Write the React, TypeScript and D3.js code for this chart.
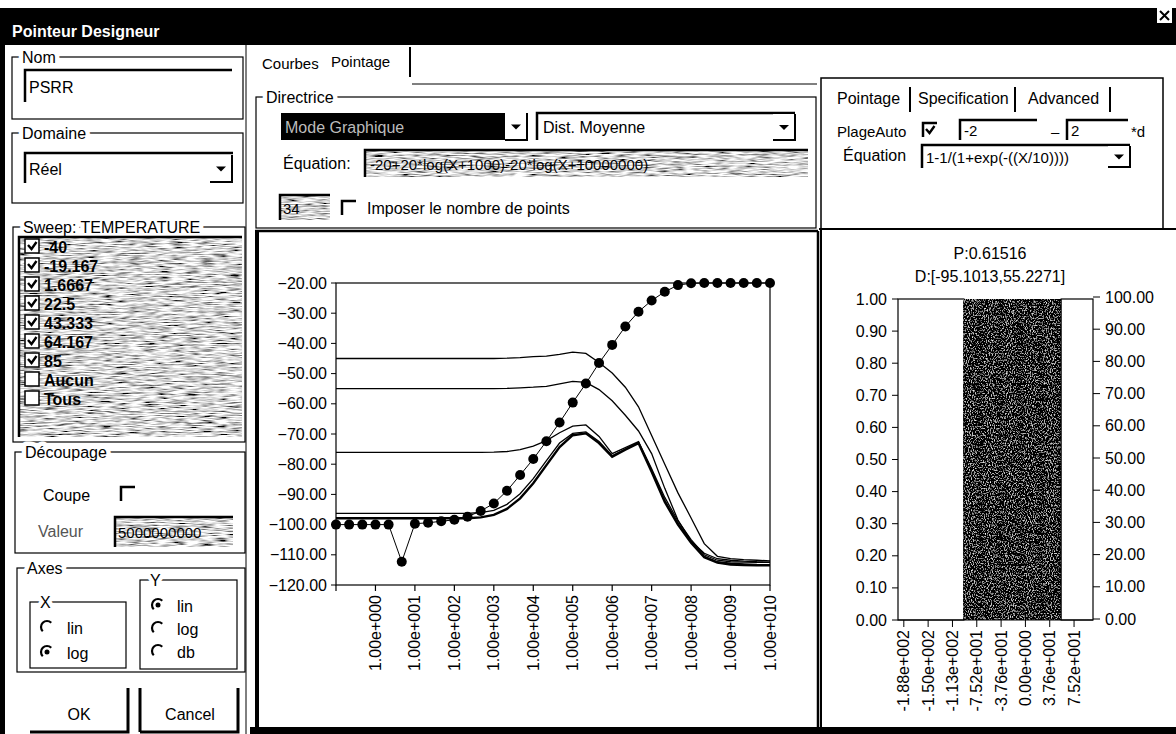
import * as d3 from "d3";

const FONT = "'Liberation Sans', Arial, Helvetica, sans-serif";

// sweep points (Hz) of the pointage, 3 per decade
const freqs = [
  1e-1, 2.154e-1, 4.642e-1, 1e0, 2.154e0, 4.642e0, 1e1, 2.154e1, 4.642e1, 1e2, 2.154e2, 4.642e2,
  1e3, 2.154e3, 4.642e3, 1e4, 2.154e4, 4.642e4, 1e5, 2.154e5, 4.642e5, 1e6, 2.154e6, 4.642e6,
  1e7, 2.154e7, 4.642e7, 1e8, 2.154e8, 4.642e8, 1e9, 2.154e9, 4.642e9, 1e10,
];

// pointage (dots)
const pointage = [
  -100, -100, -100, -100, -100, -112.3, -99.7, -99.4, -98.9, -98.4, -97.4, -95.5,
  -93, -88.8, -83.6, -78.3, -72.4, -66.2, -59.6, -53.3, -46.5, -40.5, -34.4, -29.5,
  -25.8, -22.9, -20.7, -20.1, -20, -20, -20, -20, -20, -20,
];

// PSRR curves of the temperature sweep
const curveA = [
  -45, -45, -45, -45, -45, -45, -45, -45, -45, -45, -45, -45,
  -45, -44.9, -44.7, -44.4, -44.2, -43.6, -42.9, -43.3, -46.3, -49.8, -54.5, -61,
  -70.5, -80, -89.5, -97.8, -106.3, -110.5, -111.3, -111.6, -111.8, -112,
];
const curveB = [
  -55, -55, -55, -55, -55, -55, -55, -55, -55, -55, -55, -55,
  -55, -54.9, -54.7, -54.5, -54.2, -53.4, -52.6, -52.9, -55.3, -59, -63.8, -69,
  -76.5, -88, -98.5, -105.5, -109.5, -111.3, -111.8, -112.1, -112.3, -112.4,
];
const curveC = [
  -76.1, -76.1, -76.1, -76.1, -76.1, -76.1, -76.1, -76.1, -76.1, -76.1, -76.1, -76.1,
  -76, -75.8, -75.2, -74, -72.2, -69.6, -67.4, -67, -70.8, -76.5, -74.5, -72.5,
  -81.5, -91, -98.8, -105, -110, -111.8, -112.3, -112.4, -112.5, -112.5,
];
const curveD = [
  -96.3, -96.3, -96.3, -96.3, -96.3, -96.3, -96.3, -96.3, -96.3, -96.3, -96.3, -96,
  -95.3, -93.3, -89.8, -84.8, -78.8, -73, -69.8, -69.3, -72.5, -77.2, -75, -72.8,
  -82, -92, -99.5, -105.5, -110.5, -112.3, -112.8, -113, -113.2, -113.3,
];
const curveE = [
  -97.9, -97.9, -97.9, -97.9, -97.9, -97.9, -97.9, -97.9, -97.9, -97.9, -97.9, -97.6,
  -96.8, -94.8, -91.3, -86.3, -80.3, -74.3, -70.4, -69.8, -73, -77.5, -75.2, -73,
  -82.5, -92.5, -100, -106, -110.8, -112.6, -113.2, -113.4, -113.5, -113.5,
];
const curves = [curveA, curveB, curveC, curveD, curveE];
const curveWidths = [1.3, 1.3, 1.3, 1.3, 2.4];

const temperatures = ["-40", "-19.167", "1.6667", "22.5", "43.333", "64.167", "85"];
const xLabelValues = [1e0, 1e1, 1e2, 1e3, 1e4, 1e5, 1e6, 1e7, 1e8, 1e9, 1e10];

// right panel: distribution of the spec
const binEdges = [-197, -95.1013, 55.2271, 104.5];
const binHeights = [1, 1, 1];
const binDark = [false, true, false];
const distTicks = [-188, -150.4, -112.8, -75.2, -37.6, 0, 37.6, 75.2];

function sci(v: number) {
  if (v === 0) return "0.00e+000";
  const e = Math.floor(Math.log10(Math.abs(v)) + 1e-9);
  const m = v / Math.pow(10, e);
  const es = (e < 0 ? "-" : "+") + String(Math.abs(e)).padStart(3, "0");
  return m.toFixed(2) + "e" + es;
}

const T = (p: any) => (
  <text fontFamily={FONT} fontSize={16} dominantBaseline="central" {...p} />
);

function Group({ x, y, w, h, label }: any) {
  return (
    <g>
      <rect x={x} y={y} width={w} height={h} fill="none" stroke="#000" strokeWidth={1.2} />
      <T x={x + 10} y={y} stroke="#fff" strokeWidth={9} strokeLinejoin="round" paintOrder="stroke">
        {label}
      </T>
    </g>
  );
}

function Sunken({ x, y, w, h, fill = "#fff", filter }: any) {
  return (
    <g>
      <rect x={x} y={y} width={w} height={h} fill={fill} filter={filter} />
      <path d={`M${x},${y + h} V${y} H${x + w}`} fill="none" stroke="#000" strokeWidth={2.5} />
    </g>
  );
}

function ArrowBtn({ x, y, w, h }: any) {
  const cx = x + w / 2;
  const cy = y + h / 2;
  return (
    <g>
      <rect x={x} y={y} width={w} height={h} fill="#fff" />
      <path d={`M${x + w},${y} V${y + h} H${x}`} fill="none" stroke="#000" strokeWidth={2} />
      <path d={`M${cx - 5},${cy - 2} h10 l-5,5 z`} fill="#000" />
    </g>
  );
}

function Check({ x, y, checked, boxed }: any) {
  return (
    <g>
      {boxed ? (
        <rect x={x} y={y} width={14} height={14} fill="#fff" stroke="#000" strokeWidth={1.5} />
      ) : (
        <path d={`M${x},${y + 14} V${y} H${x + 14}`} fill="none" stroke="#000" strokeWidth={2.5} />
      )}
      {checked && (
        <path d={`M${x + 3},${y + 6} l3.5,4 l5,-7`} fill="none" stroke="#000" strokeWidth={2.4} />
      )}
    </g>
  );
}

function Radio({ cx, cy, on }: any) {
  const r = 6;
  const a1 = (Math.PI * 3) / 4;
  const a0 = -Math.PI / 4;
  return (
    <g>
      <path
        d={`M${cx + r * Math.cos(a0)},${cy + r * Math.sin(a0)} A${r},${r} 0 0 0 ${cx + r * Math.cos(a1)},${cy + r * Math.sin(a1)}`}
        fill="none"
        stroke="#000"
        strokeWidth={2.2}
      />
      {on && <circle cx={cx} cy={cy} r={2.5} fill="#000" />}
    </g>
  );
}

export default function App() {
  // main PSRR chart
  const x = d3.scaleLog().domain([freqs[0], freqs[freqs.length - 1]]).range([336, 770]);
  const y = d3.scaleLinear().domain([-120, -20]).range([585, 283]);
  const line = d3
    .line<number>()
    .x((_, i) => x(freqs[i]))
    .y((d) => y(d));
  const minor = x.ticks();

  // right distribution chart
  const xr = d3.scaleLinear().domain([binEdges[0], binEdges[binEdges.length - 1]]).range([898, 1093]);
  const yr = d3.scaleLinear().domain([0, 1]).range([620, 299]);
  const yr2 = d3.scaleLinear().domain([0, 100]).range([619, 297]);

  const rowY = (i: number) => 246 + i * 19;

  return (
    <div style={{ position: "fixed", left: 0, top: 0 }}>
      <svg width={1176} height={734} style={{ display: "block", background: "#fff" }}>
        <defs>
          <filter id="grain" x="0" y="0" width="100%" height="100%">
            <feTurbulence type="fractalNoise" baseFrequency="0.07 0.9" numOctaves={2} seed={3} result="n" />
            <feColorMatrix
              in="n"
              type="matrix"
              values="2.4 0 0 0 -0.52  2.4 0 0 0 -0.52  2.4 0 0 0 -0.52  0 0 0 0 1"
              result="g"
            />
            <feComposite in="g" in2="SourceGraphic" operator="in" />
          </filter>
          <filter id="grainDark" x="0" y="0" width="100%" height="100%">
            <feTurbulence type="fractalNoise" baseFrequency="0.95 0.6" numOctaves={2} seed={7} result="n" />
            <feColorMatrix
              in="n"
              type="matrix"
              values="2.6 0 0 0 -1.35  2.6 0 0 0 -1.35  2.6 0 0 0 -1.35  0 0 0 0 1"
              result="g"
            />
            <feComposite in="g" in2="SourceGraphic" operator="in" />
          </filter>
        </defs>

        {/* title bar */}
        <rect x={0} y={8} width={1176} height={37} fill="#000" />
        <T x={12} y={31} fill="#fff" fontWeight="bold">Pointeur Designeur</T>
        <rect x={1157} y={8} width={15} height={15} fill="#fff" />
        <path d="M1160,11 l9,9 M1169,11 l-9,9" stroke="#000" strokeWidth={2} />

        {/* left panel */}
        <rect x={0} y={45} width={5} height={689} fill="#000" />
        <line x1={246} y1={45} x2={246} y2={734} stroke="#000" />

        <Group x={12} y={57} w={231} h={62} label="Nom" />
        <Sunken x={25} y={70} w={207} h={32} />
        <T x={29} y={87}>PSRR</T>

        <Group x={12} y={133} w={231} h={70} label="Domaine" />
        <Sunken x={25} y={153} w={208} h={30} />
        <ArrowBtn x={210} y={155} w={22} h={27} />
        <T x={29} y={169}>Réel</T>

        <Group x={13} y={227} w={232} h={215} label="Sweep: TEMPERATURE" />
        <Sunken x={19} y={237} w={223} h={200} fill="#999" filter="url(#grain)" />
        {temperatures.map((t, i) => (
          <g key={t}>
            <Check x={25} y={rowY(i) - 7} checked boxed />
            <T x={44} y={rowY(i) + 1} fontWeight="bold">{t}</T>
          </g>
        ))}
        {["Aucun", "Tous"].map((t, i) => (
          <g key={t}>
            <Check x={25} y={rowY(i + 7) - 7} checked={false} boxed />
            <T x={44} y={rowY(i + 7) + 1} fontWeight="bold">{t}</T>
          </g>
        ))}

        <Group x={15} y={452} w={230} h={101} label="Découpage" />
        <T x={43} y={495}>Coupe</T>
        <Check x={121} y={487} checked={false} />
        <T x={38} y={531} fill="#555">Valeur</T>
        <Sunken x={115} y={517} w={118} h={30} fill="#999" filter="url(#grain)" />
        <T x={118} y={532} fontSize={15}>5000000000</T>

        <Group x={17} y={568} w={228} h={104} label="Axes" />
        <Group x={30} y={602} w={96} h={66} label="X" />
        <Radio cx={47} cy={627} on={false} />
        <T x={67} y={628}>lin</T>
        <Radio cx={47} cy={652} on />
        <T x={67} y={653}>log</T>
        <Group x={140} y={580} w={97} h={89} label="Y" />
        <Radio cx={158} cy={605} on />
        <T x={177} y={606}>lin</T>
        <Radio cx={158} cy={628} on={false} />
        <T x={177} y={629}>log</T>
        <Radio cx={158} cy={651} on={false} />
        <T x={177} y={652}>db</T>

        <path d="M30,732 H128 V688" fill="none" stroke="#000" strokeWidth={3} />
        <T x={79} y={714} textAnchor="middle">OK</T>
        <path d="M140,732 V688 M140,732 H238 V688" fill="none" stroke="#000" strokeWidth={3} />
        <T x={190} y={714} textAnchor="middle">Cancel</T>

        {/* middle top: tabs and Directrice */}
        <T x={262} y={63} fontSize={15}>Courbes</T>
        <T x={331} y={61} fontSize={15}>Pointage</T>
        <line x1={410} y1={47} x2={410} y2={77} stroke="#000" strokeWidth={2} />
        <line x1={412} y1={84} x2={817} y2={84} stroke="#000" />

        <Group x={256} y={97} w={560} h={131} label="Directrice" />
        <rect x={281} y={113} width={224} height={27} fill="#000" />
        <T x={285} y={127} fill="#bbb">Mode Graphique</T>
        <ArrowBtn x={505} y={113} w={22} h={27} />
        <Sunken x={537} y={113} w={258} h={27} />
        <T x={543} y={127}>Dist. Moyenne</T>
        <ArrowBtn x={773} y={114} w={22} h={26} />
        <T x={283} y={163}>Équation:</T>
        <Sunken x={365} y={150} w={443} h={27} fill="#999" filter="url(#grain)" />
        <T x={370} y={164} fontSize={15}>-20+20*log(X+1000)-20*log(X+10000000)</T>
        <Sunken x={280} y={195} w={50} h={25} fill="#999" filter="url(#grain)" />
        <T x={283} y={208} fontSize={15}>34</T>
        <Check x={342} y={201} checked={false} />
        <T x={367} y={208}>Imposer le nombre de points</T>

        {/* right top panel */}
        <path d="M821,230 V78 H1163 V230" fill="none" stroke="#000" strokeWidth={1.5} />
        <T x={837} y={98}>Pointage</T>
        <line x1={910} y1={87} x2={910} y2={112} stroke="#000" strokeWidth={2} />
        <T x={918} y={98}>Specification</T>
        <line x1={1015} y1={87} x2={1015} y2={112} stroke="#000" strokeWidth={2} />
        <T x={1028} y={98}>Advanced</T>
        <line x1={1110} y1={87} x2={1110} y2={112} stroke="#000" strokeWidth={2} />
        <T x={837} y={131} fontSize={15}>PlageAuto</T>
        <Check x={923} y={123} checked />
        <Sunken x={960} y={120} w={77} h={20} />
        <T x={964} y={130} fontSize={15}>-2</T>
        <T x={1051} y={131} fontSize={15}>–</T>
        <Sunken x={1067} y={120} w={61} h={20} />
        <T x={1071} y={130} fontSize={15}>2</T>
        <T x={1131} y={131} fontSize={15}>*d</T>
        <T x={843} y={155}>Équation</T>
        <Sunken x={922} y={145} w={208} h={23} />
        <T x={926} y={157} fontSize={15}>1-1/(1+exp(-((X/10))))</T>
        <ArrowBtn x={1108} y={146} w={22} h={21} />

        {/* panel frames */}
        <rect x={255} y={231} width={4} height={503} fill="#000" />
        <line x1={255} y1={231} x2={818} y2={231} stroke="#000" strokeWidth={2.5} />
        <line x1={818} y1={231} x2={818} y2={734} stroke="#000" strokeWidth={2.5} />
        <line x1={819} y1={229} x2={1176} y2={229} stroke="#000" strokeWidth={2} />
        <line x1={821} y1={229} x2={821} y2={734} stroke="#000" strokeWidth={2} />
        <rect x={250} y={727} width={926} height={7} fill="#000" />

        {/* main chart */}
        <g>
          <rect x={336} y={283} width={434} height={302} fill="none" stroke="#000" strokeWidth={1.2} />
          {y.ticks(10).map((t) => (
            <g key={t}>
              <line x1={331} x2={336} y1={y(t)} y2={y(t)} stroke="#000" />
              <T x={327} y={y(t)} textAnchor="end">{d3.format(".2f")(t)}</T>
            </g>
          ))}
          {minor.map((t, i) => (
            <line key={i} x1={x(t)} x2={x(t)} y1={585} y2={591} stroke="#000" strokeWidth={1.2} />
          ))}
          {xLabelValues.map((t) => (
            <T key={t} transform={`translate(${x(t)},595) rotate(-90)`} textAnchor="end">
              {sci(t)}
            </T>
          ))}
          {curves.map((c, i) => (
            <path key={i} d={line(c) || ""} fill="none" stroke="#000" strokeWidth={curveWidths[i]} />
          ))}
          <path d={line(pointage) || ""} fill="none" stroke="#000" strokeWidth={1} />
          {pointage.map((v, i) => (
            <circle key={i} cx={x(freqs[i])} cy={y(v)} r={5} fill="#000" />
          ))}
        </g>

        {/* distribution chart */}
        <g>
          <T x={990} y={253} textAnchor="middle">P:0.61516</T>
          <T x={990} y={276} textAnchor="middle">D:[-95.1013,55.2271]</T>
          {binHeights.map((h, i) => (
            <rect
              key={i}
              x={xr(binEdges[i])}
              y={yr(h)}
              width={xr(binEdges[i + 1]) - xr(binEdges[i])}
              height={yr(0) - yr(h)}
              fill={binDark[i] ? "#111" : "#fff"}
              filter={binDark[i] ? "url(#grainDark)" : undefined}
              stroke="#000"
              strokeWidth={1.2}
            />
          ))}
          <line x1={xr(binEdges[0])} x2={xr(binEdges[3])} y1={yr(0)} y2={yr(0)} stroke="#000" />
          {yr.ticks(10).map((t) => (
            <g key={t}>
              <line x1={892} x2={898} y1={yr(t)} y2={yr(t)} stroke="#000" />
              <T x={887} y={yr(t)} textAnchor="end">{d3.format(".2f")(t)}</T>
            </g>
          ))}
          {yr2.ticks(10).map((t) => (
            <g key={t}>
              <line x1={1093} x2={1100} y1={yr2(t)} y2={yr2(t)} stroke="#000" />
              <T x={1105} y={yr2(t)}>{d3.format(".2f")(t)}</T>
            </g>
          ))}
          {distTicks.map((t) => (
            <g key={t}>
              <line x1={xr(t)} x2={xr(t)} y1={620} y2={627} stroke="#000" />
              <T transform={`translate(${xr(t)},630) rotate(-90)`} textAnchor="end">
                {sci(t)}
              </T>
            </g>
          ))}
        </g>
      </svg>
    </div>
  );
}
